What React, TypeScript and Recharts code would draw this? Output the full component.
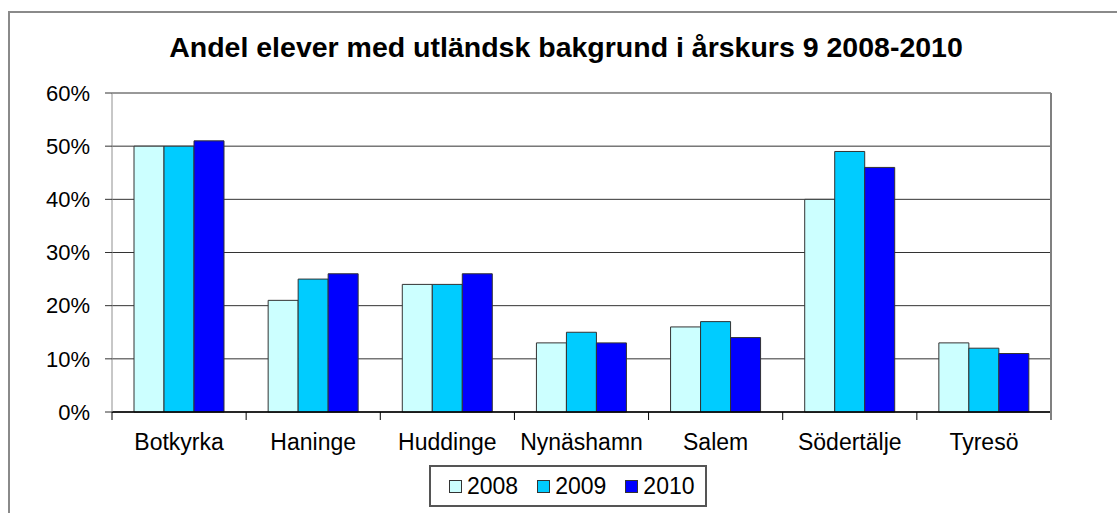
import React from 'react';
import { BarChart, Bar, XAxis, YAxis, CartesianGrid, Legend } from 'recharts';

const categories = ['Botkyrka', 'Haninge', 'Huddinge', 'Nynäshamn', 'Salem', 'Södertälje', 'Tyresö'];
const values2008 = [50, 21, 24, 13, 16, 40, 13];
const values2009 = [50, 25, 24, 15, 17, 49, 12];
const values2010 = [51, 26, 26, 13, 14, 46, 11];
const yTicks = [0, 10, 20, 30, 40, 50, 60];
const seriesNames = ['2008', '2009', '2010'];
const seriesColors = ['#CCFFFF', '#00CCFF', '#0000FF'];
const title = 'Andel elever med utländsk bakgrund i årskurs 9 2008-2010';

const data = categories.map((c, i) => ({
  name: c,
  '2008': values2008[i],
  '2009': values2009[i],
  '2010': values2010[i],
}));

const FONT = '"Liberation Sans", Arial, sans-serif';
const W = 1117;
const H = 513;
const PLOT_LEFT = 112;
const PLOT_RIGHT = 1051;
const PLOT_TOP = 93;
const PLOT_BOTTOM = 412;
const LEGEND_H = 42;
const XAXIS_H = 40;
const BAND = (PLOT_RIGHT - PLOT_LEFT) / categories.length;

const XTick = (props: any) => {
  const { x, y, payload, index } = props;
  const left = x - BAND / 2;
  const right = x + BAND / 2;
  return (
    <g>
      <line x1={left} x2={left} y1={y} y2={y + 8} stroke="#000" strokeWidth={1} />
      {index === categories.length - 1 && (
        <line x1={right} x2={right} y1={y} y2={y + 8} stroke="#808080" strokeWidth={2} />
      )}
      <text x={x} y={y + 38} textAnchor="middle" fontSize={23} fontFamily={FONT} fill="#000">
        {payload.value}
      </text>
    </g>
  );
};

const LegendContent = () => (
  <div
    style={{
      boxSizing: 'border-box',
      width: 278,
      height: LEGEND_H,
      border: '2px solid #555',
      background: '#fff',
      display: 'flex',
      alignItems: 'center',
      paddingLeft: 18,
      fontFamily: FONT,
      fontSize: 23,
      color: '#000',
    }}
  >
    {seriesNames.map((n, i) => (
      <div key={n} style={{ display: 'flex', alignItems: 'center', marginRight: 19 }}>
        <div
          style={{
            boxSizing: 'border-box',
            width: 13,
            height: 13,
            background: seriesColors[i],
            border: '1px solid #333',
            marginRight: 5,
          }}
        />
        <span style={{ lineHeight: '23px' }}>{n}</span>
      </div>
    ))}
  </div>
);

export default function App() {
  return (
    <div style={{ position: 'absolute', left: 0, top: 0, width: W, height: H, overflow: 'hidden', background: '#fff' }}>
      <div
        style={{
          position: 'absolute',
          left: 8,
          top: 11,
          width: 1300,
          height: 700,
          border: '2px solid #8a8a8a',
          boxSizing: 'border-box',
        }}
      />
      <div
        style={{
          position: 'absolute',
          left: 0,
          top: 33,
          width: 1132,
          textAlign: 'center',
          fontFamily: FONT,
          fontWeight: 'bold',
          fontSize: 28.5,
          lineHeight: '28.5px',
          color: '#000',
          whiteSpace: 'nowrap',
        }}
      >
        {title}
      </div>
      <div style={{ position: 'absolute', left: 0, top: 0 }}>
        <BarChart
          width={W}
          height={H}
          data={data}
          margin={{
            top: PLOT_TOP,
            left: PLOT_LEFT - 60,
            right: W - PLOT_RIGHT - 1,
            bottom: H - PLOT_BOTTOM - XAXIS_H - LEGEND_H,
          }}
          barCategoryGap={22}
          barGap={0}
        >
          <CartesianGrid vertical={false} stroke="#333" strokeWidth={1} yAxisId="left" />
          <XAxis
            dataKey="name"
            height={XAXIS_H}
            tickLine={false}
            tickSize={0}
            tickMargin={0}
            axisLine={{ stroke: '#000', strokeWidth: 1.5 }}
            tick={<XTick />}
            interval={0}
          />
          <YAxis
            yAxisId="left"
            width={60}
            domain={[0, 60]}
            ticks={yTicks}
            interval={0}
            tickFormatter={(v: number) => `${v}%`}
            tickSize={7}
            tickMargin={15}
            tickLine={{ stroke: '#333' }}
            axisLine={{ stroke: '#909090', strokeWidth: 1 }}
            tick={{ fontSize: 22, fontFamily: FONT, fill: '#000' }}
          />
          <YAxis
            yAxisId="right"
            orientation="right"
            width={1}
            domain={[0, 60]}
            tick={false}
            tickLine={false}
            axisLine={{ stroke: '#808080', strokeWidth: 2 }}
          />
          <Legend
            layout="vertical"
            align="center"
            verticalAlign="bottom"
            content={<LegendContent />}
            wrapperStyle={{ position: 'absolute', left: 429, top: 465, bottom: 'auto', width: 278, height: LEGEND_H }}
          />
          {seriesNames.map((n, i) => (
            <Bar
              key={n}
              yAxisId="left"
              dataKey={n}
              fill={seriesColors[i]}
              stroke="#333"
              strokeWidth={1}
              isAnimationActive={false}
            />
          ))}
        </BarChart>
      </div>
    </div>
  );
}
